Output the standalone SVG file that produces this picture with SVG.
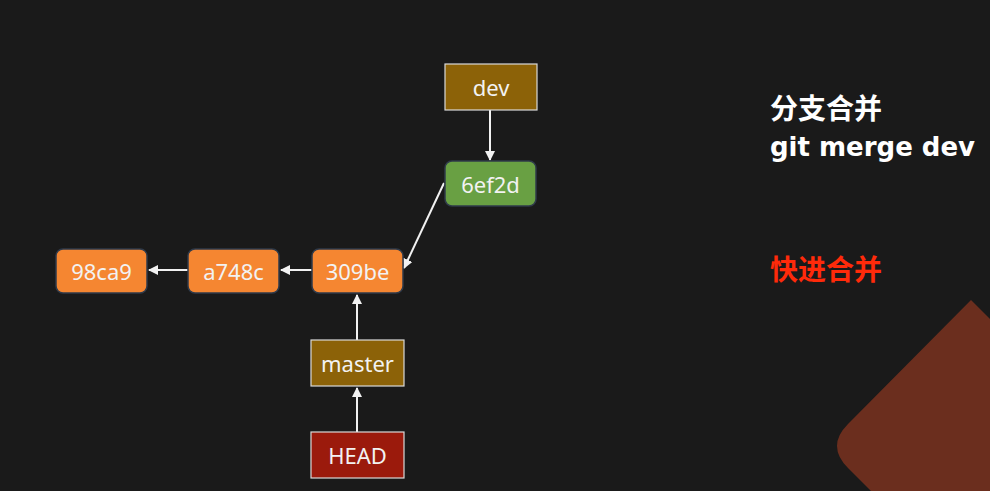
<svg xmlns="http://www.w3.org/2000/svg" width="990" height="491" viewBox="0 0 990 491">
<defs>
<style>
.lbl{font-family:"Noto Sans","Noto Sans CJK SC",sans-serif;font-size:22px;fill:#f2f2f2;text-anchor:middle;dominant-baseline:central}
.commit{fill:#f58631;stroke:#2f3a4a;stroke-width:1.5}
.ref{stroke:#d9d9d9;stroke-width:1.2}
.conn{stroke:#f2f2f2;stroke-width:2;fill:none;marker-end:url(#ah)}
.title{font-family:"Noto Sans CJK SC","Noto Sans",sans-serif;font-size:28px;font-weight:bold}
.cmd{font-family:"DejaVu Sans",sans-serif;font-size:26px;font-weight:bold}
</style>
<marker id="ah" viewBox="0 0 10 10" refX="9" refY="5" markerWidth="5" markerHeight="5" orient="auto" markerUnits="strokeWidth">
<path d="M0,0 L10,5 L0,10 Z" fill="#f2f2f2"/>
</marker>
</defs>
<rect width="990" height="491" fill="#1a1a1a"/>
<path d="M971,300 L1100,429 L1100,600 L980,600 L848,468 Q826,446 848,424 Z" fill="#6b2e1e"/>
<g id="connectors">
<line class="conn" x1="188" y1="270" x2="149" y2="270"/>
<line class="conn" x1="312" y1="270" x2="281" y2="270"/>
<line class="conn" x1="444" y1="183" x2="404" y2="268"/>
<line class="conn" x1="490" y1="110" x2="490" y2="160"/>
<line class="conn" x1="357" y1="340" x2="357" y2="295"/>
<line class="conn" x1="357" y1="432" x2="357" y2="388"/>
</g>
<g id="n98ca9"><rect class="commit" x="56" y="249" width="91" height="44" rx="7"/><text class="lbl" x="101.5" y="271">98ca9</text></g>
<g id="na748c"><rect class="commit" x="188" y="249" width="91" height="44" rx="7"/><text class="lbl" x="233.5" y="271">a748c</text></g>
<g id="n309be"><rect class="commit" x="312" y="249" width="91" height="44" rx="7"/><text class="lbl" x="357.5" y="271">309be</text></g>
<g id="n6ef2d"><rect x="445" y="161" width="91" height="45" rx="7" fill="#69a043" stroke="#2f3a4a" stroke-width="1.5"/><text class="lbl" x="490.5" y="184">6ef2d</text></g>
<g id="dev"><rect class="ref" x="445" y="64" width="92" height="46" fill="#8c6208"/><text class="lbl" x="491" y="87">dev</text></g>
<g id="master"><rect class="ref" x="311" y="340" width="93" height="46" fill="#8c6208"/><text class="lbl" x="357.5" y="363">master</text></g>
<g id="HEAD"><rect class="ref" x="311" y="432" width="93" height="46" fill="#9b1a0c"/><text class="lbl" x="357.5" y="455">HEAD</text></g>
<g id="notes">
<text class="title" x="770" y="119" fill="#ffffff">分支合并</text>
<text class="cmd" x="770" y="156" fill="#ffffff">git merge dev</text>
<text class="title" x="770" y="280" fill="#ff2a0a">快进合并</text>
</g>
</svg>
